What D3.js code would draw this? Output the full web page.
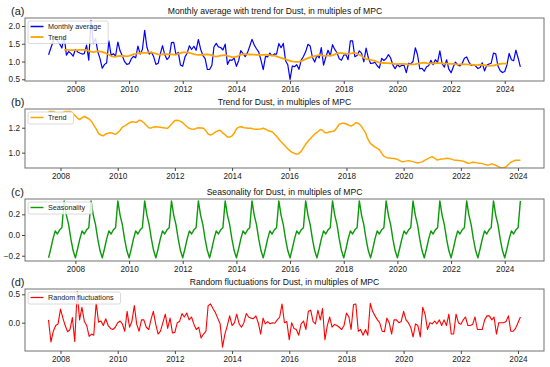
<!DOCTYPE html>
<html><head><meta charset="utf-8">
<script src="https://cdn.jsdelivr.net/npm/d3@7"></script>
<style>
body{margin:0;background:#fff}
svg{display:block}
text{font-family:"Liberation Sans",Arial,Helvetica,sans-serif}
</style>
</head><body>
<svg id="chart" width="550" height="367"></svg>
<script>
// ---------------- data ----------------
const startYear = 2007;          // first month: January 2007
const trendStartIndex = 7;       // trend / residuals begin August 2007

const observed = [
1.19,1.38,1.55,1.72,1.58,1.50,1.38,1.71,1.18,1.28,1.23,1.15,
1.34,1.27,1.24,1.21,1.22,1.46,1.04,2.16,1.505,1.65,1.27,1.08,
0.81,0.92,0.96,1.58,1.175,1.22,1.155,1.55,1.295,1.16,0.995,0.917,
0.94,1.08,1.145,1.105,1.437,1.21,1.338,1.875,1.403,1.21,1.265,1.14,
0.92,0.95,1.207,1.445,1.197,1.055,1.123,1.53,1.537,1.195,1.255,0.905,
0.868,1.13,1.235,1.445,1.338,1.43,1.315,1.62,1.347,1.175,1.08,0.778,
0.775,0.895,1.41,1.511,1.41,1.395,1.325,1.49,0.92,1.045,1.035,1.095,
0.865,1.03,1.305,1.225,1.138,1.25,1.428,1.625,1.465,1.36,1.267,1.037,
0.77,1.145,1.13,1.238,1.162,1.215,1.205,1.505,1.39,1.51,1.02,0.91,
0.50,0.875,0.855,0.91,0.782,1.04,1.14,1.28,1.485,1.435,1.115,0.985,
1.168,1.105,1.39,0.90,1.12,1.318,1.16,1.475,1.34,1.248,1.075,1.035,
1.18,1.19,1.053,1.585,1.58,1.135,1.17,1.30,1.23,0.99,1.375,1.11,
0.945,0.955,0.98,0.88,0.818,1.09,1.028,1.085,1.193,1.10,0.90,0.80,
0.908,0.852,0.896,0.892,0.688,0.952,0.937,1.002,1.388,1.19,0.79,0.81,
0.728,0.855,0.882,1.036,0.91,1.052,0.975,1.30,0.938,0.842,1.05,0.788,
0.686,0.852,0.985,0.905,0.878,0.943,1.092,1.128,0.985,0.892,0.916,0.871,
0.803,0.83,0.965,0.736,0.895,0.93,0.952,1.235,1.215,0.873,0.742,0.689,
0.72,0.91,1.23,1.05,1.02,1.32,1.1,0.85
];

const trend = [
1.33,1.33,1.33,1.32,1.32,
1.32,1.32,1.33,1.33,1.33,1.32,1.30,1.28,1.265,1.28,1.29,1.28,
1.27,1.25,1.22,1.19,1.155,1.14,1.135,1.15,1.155,1.16,1.155,1.147,
1.16,1.18,1.205,1.215,1.227,1.24,1.248,1.245,1.243,1.26,1.255,1.24,
1.22,1.20,1.197,1.205,1.207,1.205,1.203,1.20,1.197,1.195,1.215,1.235,
1.258,1.26,1.255,1.245,1.228,1.21,1.195,1.19,1.187,1.195,1.20,1.198,
1.195,1.175,1.15,1.141,1.15,1.165,1.175,1.18,1.16,1.145,1.125,1.125,
1.135,1.16,1.195,1.205,1.208,1.20,1.198,1.195,1.195,1.19,1.187,1.187,
1.19,1.195,1.19,1.178,1.172,1.165,1.145,1.125,1.10,1.08,1.06,1.04,
1.02,1.005,0.995,0.99,0.992,1.01,1.04,1.07,1.095,1.115,1.135,1.155,
1.168,1.185,1.18,1.16,1.16,1.168,1.17,1.175,1.20,1.228,1.235,1.235,
1.23,1.22,1.213,1.225,1.24,1.235,1.22,1.19,1.16,1.11,1.075,1.06,
1.045,1.035,1.02,0.99,0.968,0.96,0.958,0.955,0.953,0.95,0.94,0.93,
0.928,0.932,0.936,0.932,0.928,0.922,0.917,0.922,0.928,0.94,0.95,0.96,
0.968,0.955,0.942,0.946,0.95,0.952,0.955,0.953,0.948,0.942,0.94,0.938,
0.936,0.932,0.925,0.915,0.918,0.923,0.922,0.918,0.915,0.912,0.906,0.901,
0.903,0.91,0.905,0.896,0.885,0.88,0.882,0.885,0.905,0.923,0.932,0.939,
0.94,0.94
];

const seasonality = [
-0.22,-0.13,-0.04,0.04,0.01,0.05,0.07,0.33,0.19,0.10,-0.04,-0.15,
-0.22,-0.13,-0.04,0.04,0.01,0.05,0.07,0.33,0.19,0.10,-0.04,-0.15,
-0.22,-0.13,-0.04,0.04,0.01,0.05,0.07,0.33,0.19,0.10,-0.04,-0.15,
-0.22,-0.13,-0.04,0.04,0.01,0.05,0.07,0.33,0.19,0.10,-0.04,-0.15,
-0.22,-0.13,-0.04,0.04,0.01,0.05,0.07,0.33,0.19,0.10,-0.04,-0.15,
-0.22,-0.13,-0.04,0.04,0.01,0.05,0.07,0.33,0.19,0.10,-0.04,-0.15,
-0.22,-0.13,-0.04,0.04,0.01,0.05,0.07,0.33,0.19,0.10,-0.04,-0.15,
-0.22,-0.13,-0.04,0.04,0.01,0.05,0.07,0.33,0.19,0.10,-0.04,-0.15,
-0.22,-0.13,-0.04,0.04,0.01,0.05,0.07,0.33,0.19,0.10,-0.04,-0.15,
-0.22,-0.13,-0.04,0.04,0.01,0.05,0.07,0.33,0.19,0.10,-0.04,-0.15,
-0.22,-0.13,-0.04,0.04,0.01,0.05,0.07,0.33,0.19,0.10,-0.04,-0.15,
-0.22,-0.13,-0.04,0.04,0.01,0.05,0.07,0.33,0.19,0.10,-0.04,-0.15,
-0.22,-0.13,-0.04,0.04,0.01,0.05,0.07,0.33,0.19,0.10,-0.04,-0.15,
-0.22,-0.13,-0.04,0.04,0.01,0.05,0.07,0.33,0.19,0.10,-0.04,-0.15,
-0.22,-0.13,-0.04,0.04,0.01,0.05,0.07,0.33,0.19,0.10,-0.04,-0.15,
-0.22,-0.13,-0.04,0.04,0.01,0.05,0.07,0.33,0.19,0.10,-0.04,-0.15,
-0.22,-0.13,-0.04,0.04,0.01,0.05,0.07,0.33,0.19,0.10,-0.04,-0.15,
-0.22,-0.13,-0.04,0.04,0.01,0.05,0.07,0.33
];

const residual = [
0.05,-0.34,-0.15,-0.05,-0.02,
0.24,0.08,-0.05,-0.16,-0.12,0.09,-0.33,0.55,0.05,0.27,0.02,-0.05,
-0.24,-0.2,-0.22,0.35,0.01,0.03,-0.05,0.07,-0.05,-0.1,-0.12,-0.08,
0.0,0.03,-0.02,-0.15,0.2,-0.08,0.02,0.3,-0.03,-0.15,0.05,0.05,
-0.08,-0.12,0.05,0.2,-0.02,-0.2,-0.15,0.0,0.15,-0.1,0.08,-0.18,
-0.17,0.0,0.02,0.16,0.1,0.17,0.05,0.1,-0.03,-0.12,-0.08,-0.27,
-0.2,-0.15,0.3,0.33,0.25,0.18,0.08,-0.02,-0.43,-0.2,-0.05,0.12,
-0.05,0.0,0.15,-0.02,-0.08,0.0,0.16,0.1,0.08,0.07,0.12,0.0,
-0.2,0.08,-0.02,0.02,-0.02,0.0,-0.01,0.05,0.1,0.33,0.0,0.02,
-0.3,0.0,-0.1,-0.12,-0.22,-0.02,0.03,-0.12,0.2,0.22,0.02,-0.02,
0.22,0.05,0.25,-0.3,-0.05,0.1,-0.08,-0.03,-0.05,-0.08,-0.12,-0.05,
0.17,0.1,-0.12,0.32,0.33,-0.15,-0.12,-0.22,-0.12,-0.22,0.34,0.2,
0.12,0.05,0.0,-0.15,-0.16,0.08,0.0,-0.2,0.05,0.05,0.0,0.02,
0.2,0.05,0.0,-0.08,-0.25,-0.02,-0.05,-0.25,0.27,0.15,-0.12,0.0,
-0.02,0.03,-0.02,0.05,-0.05,0.05,-0.05,0.15,-0.2,-0.2,0.15,0.0,
-0.03,0.05,0.1,-0.05,-0.05,-0.03,0.1,-0.12,-0.12,-0.12,0.05,0.12,
0.12,0.05,0.1,-0.2,0.0,0.0,0.0,0.02,0.12,-0.15,-0.15,-0.1,
0.0,0.1
];

const xTickYears = [2008,2010,2012,2014,2016,2018,2020,2022,2024];
const yTicksA = [0.5,1.0,1.5,2.0];
const yTicksB = [1.0,1.2];
const yTicksC = [-0.2,0.0,0.2];
const yTicksD = [0.0,0.5];

const titles = [
  "Monthly average with trend for Dust, in multiples of MPC",
  "Trend for Dust, in multiples of MPC",
  "Seasonality for Dust, in multiples of MPC",
  "Random fluctuations for Dust, in multiples of MPC"
];
const panelLabels = ["(a)","(b)","(c)","(d)"];

// ---------------- helpers ----------------
const monthDate = i => new Date(startYear, i, 1);
const decYear = y => { const yr = Math.floor(y); const a = new Date(yr,0,1), b = new Date(yr+1,0,1); return new Date(+a + (y-yr)*(b-a)); };
const series = (vals, offset) => vals.map((v,k) => ({date: monthDate(k+offset), v}));

const obsS = series(observed, 0);
const trendS = series(trend, trendStartIndex);
const seasS = series(seasonality, 0);
const resS = series(residual, trendStartIndex);

const svg = d3.select("#chart");
const left = 25, right = 544;

const xFull = d3.scaleTime().domain([decYear(2006.121), decYear(2025.462)]).range([left, right]);
const xTrim = d3.scaleTime().domain([decYear(2006.758), decYear(2024.908)]).range([left, right]);

const panels = [
  {top:18, bottom:81, x:xFull, yd:[0.452,2.225], ticks:yTicksA, titleX:275,
   lines:[{s:obsS,c:"#0000ff",w:1.2},{s:trendS,c:"#ffa500",w:1.8}],
   legend:[{t:"Monthly average",c:"#0000ff",w:1.5},{t:"Trend",c:"#ffa500",w:1.8}]},
  {top:109, bottom:168, x:xTrim, yd:[0.877,1.35], ticks:yTicksB, titleX:284.5,
   lines:[{s:trendS,c:"#ffa500",w:1.5}],
   legend:[{t:"Trend",c:"#ffa500",w:1.5}]},
  {top:199, bottom:261, x:xFull, yd:[-0.251,0.348], ticks:yTicksC, titleX:284.5,
   lines:[{s:seasS,c:"#0a9a0a",w:1.4}],
   legend:[{t:"Seasonality",c:"#0a9a0a",w:1.4}]},
  {top:289, bottom:351, x:xTrim, yd:[-0.498,0.593], ticks:yTicksD, titleX:284.5,
   lines:[{s:resS,c:"#ff0000",w:1.1}],
   legend:[{t:"Random fluctuations",c:"#ff0000",w:1.2}]}
];

panels.forEach((p, idx) => {
  const y = d3.scaleLinear().domain(p.yd).range([p.bottom, p.top]);
  const g = svg.append("g");

  p.lines.forEach(L => {
    g.append("path").datum(L.s)
      .attr("fill","none").attr("stroke",L.c).attr("stroke-width",L.w)
      .attr("stroke-linejoin","round")
      .attr("d", d3.line().x(d=>p.x(d.date)).y(d=>y(d.v)));
  });

  g.append("rect").attr("x",left).attr("y",p.top)
    .attr("width",right-left).attr("height",p.bottom-p.top)
    .attr("fill","none").attr("stroke","#707070").attr("stroke-width",1);

  const xa = g.append("g").attr("transform",`translate(0,${p.bottom})`)
    .call(d3.axisBottom(p.x).tickValues(xTickYears.map(v=>new Date(v,0,1)))
      .tickFormat(d3.timeFormat("%Y")).tickSize(3).tickPadding(2));
  const ya = g.append("g").attr("transform",`translate(${left},0)`)
    .call(d3.axisLeft(y).tickValues(p.ticks).tickFormat(d3.format(".1f")).tickSize(3).tickPadding(2));
  [xa,ya].forEach(a => {
    a.select(".domain").remove();
    a.selectAll("line").attr("stroke","#444");
    a.selectAll("text").attr("font-size",8.2).attr("fill","#222")
      .attr("font-family",'"Liberation Sans",Arial,sans-serif');
  });

  g.append("text").attr("x",p.titleX).attr("y",p.top-4.5)
    .attr("text-anchor","middle").attr("font-size",8.6).attr("fill","#111").text(titles[idx]);
  g.append("text").attr("x",11).attr("y",p.top-3.5)
    .attr("font-size",11).attr("fill","#222").text(panelLabels[idx]);

  const lg = g.append("g");
  const lx = left+3, ly = p.top+3;
  const rowH = 10.5;
  const box = lg.append("rect").attr("x",lx).attr("y",ly).attr("rx",2)
    .attr("height", p.legend.length*rowH + 1.5)
    .attr("fill","#fff").attr("fill-opacity",0.85).attr("stroke","#d0d0d0").attr("stroke-width",0.8);
  let maxEnd = 0;
  p.legend.forEach((e,k) => {
    const cy = ly + 5.5 + k*rowH;
    lg.append("line").attr("x1",lx+2.5).attr("x2",lx+15.5).attr("y1",cy).attr("y2",cy)
      .attr("stroke",e.c).attr("stroke-width",e.w);
    const t = lg.append("text").attr("x",lx+20).attr("y",cy+2.5)
      .attr("font-size",7.2).attr("fill","#222").text(e.t);
    maxEnd = Math.max(maxEnd, lx+20+t.node().getComputedTextLength());
  });
  box.attr("width", maxEnd + 7 - lx);
});
</script>
</body></html>
